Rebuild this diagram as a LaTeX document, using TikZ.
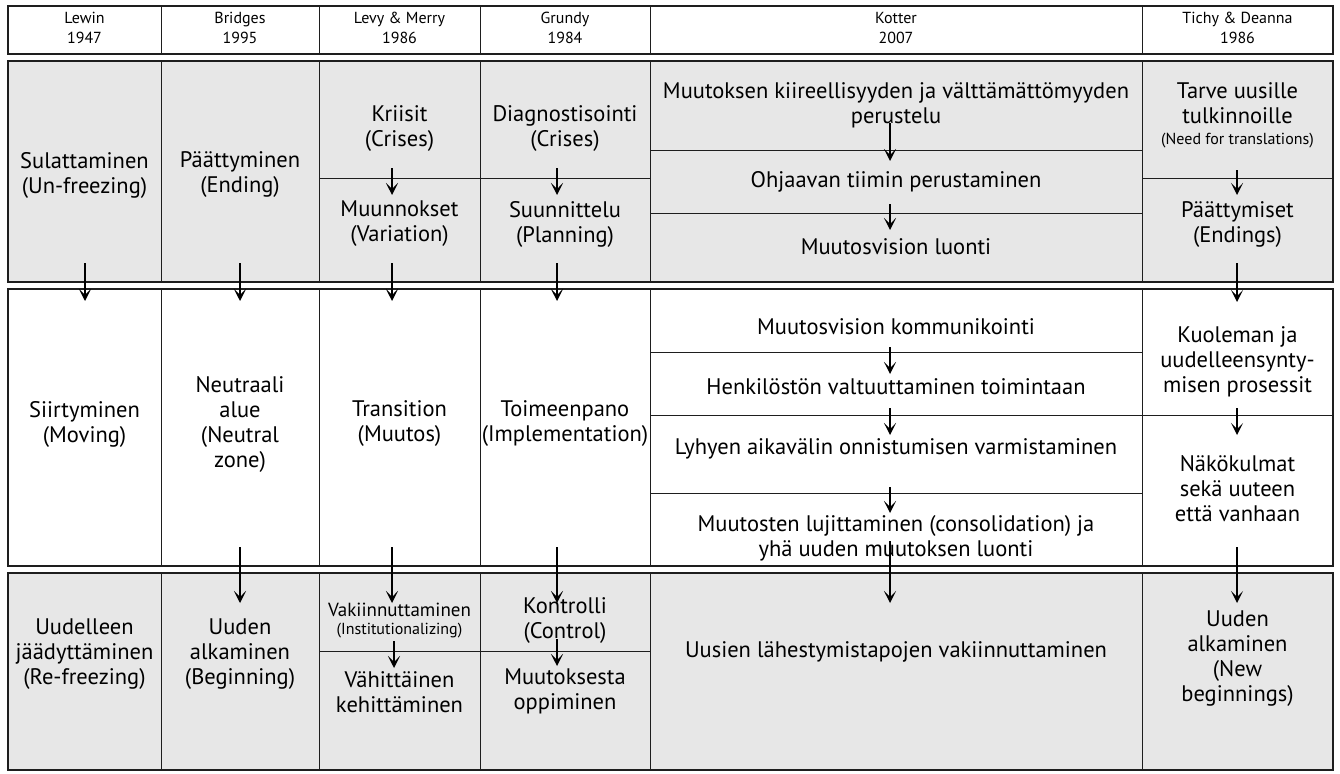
\documentclass[tikz,border=0pt]{standalone}
\usepackage{fontspec}
\setmainfont{PT Sans}
\usetikzlibrary{arrows.meta}
\definecolor{cellgray}{HTML}{E7E7E7}
\definecolor{rulecol}{HTML}{1E1E1E}
\tikzset{
  band/.style={draw=rulecol, line width=1.8pt},
  sep/.style={draw=rulecol, line width=1pt},
  txt/.style={align=center, inner sep=0pt, font=\fontsize{22.5}{25}\selectfont},
  head/.style={align=center, inner sep=0pt, font=\fontsize{16}{20}\selectfont},
  mid/.style={align=center, inner sep=0pt, font=\fontsize{19}{22}\selectfont},
  small/.style={align=center, inner sep=0pt, font=\fontsize{16}{18}\selectfont},
  arr/.style={draw=black, line width=1.4pt, -{Stealth[length=12pt,width=12pt,inset=6pt]}}
}
\begin{document}
\begin{tikzpicture}[x=1pt,y=-1pt]
\useasboundingbox (0,0) rectangle (1340,773);
\fill[white] (0,0) rectangle (1340,773);

% ---- bands ----
\draw[band, fill=white]    (8,6)   rectangle (1333,54);
\draw[band, fill=cellgray] (8,61)  rectangle (1333,282);
\draw[band, fill=white]    (8,289) rectangle (1333,566);
\draw[band, fill=cellgray] (8,573) rectangle (1333,770);

% ---- column rules ----
\foreach \x in {161,319,480,650,1142}{
  \draw[sep] (\x,6) -- (\x,54);
  \draw[sep] (\x,61) -- (\x,282);
  \draw[sep] (\x,289) -- (\x,566);
  \draw[sep] (\x,573) -- (\x,770);
}

% ---- row rules inside columns ----
\draw[sep] (319,178) -- (650,178);
\draw[sep] (650,150) -- (1142,150);
\draw[sep] (650,213) -- (1142,213);
\draw[sep] (1142,178) -- (1333,178);
\draw[sep] (650,352) -- (1142,352);
\draw[sep] (650,415) -- (1333,415);
\draw[sep] (650,493) -- (1142,493);
\draw[sep] (319,651) -- (650,651);

% ---- header ----
\node[head] (h1) at (84.5,28) {Lewin\\1947};
\node[head] (h2) at (240,28) {Bridges\\1995};
\node[head] (h3) at (399.5,28) {Levy \& Merry\\1986};
\node[head] (h4) at (565,28) {Grundy\\1984};
\node[head] (h5) at (896,28) {Kotter\\2007};
\node[head] (h6) at (1237.5,28) {Tichy \& Deanna\\1986};

% ---- first band ----
\node[txt] (lw1) at (84.5,175) {Sulattaminen\\(Un-freezing)};
\node[txt] (br1) at (240,175) {Päättyminen\\(Ending)};
\node[txt] (lm1) at (399.5,129) {Kriisit\\(Crises)};
\node[txt] (lm2) at (399.5,224) {Muunnokset\\(Variation)};
\node[txt] (gr1) at (565,129) {Diagnostisointi\\(Crises)};
\node[txt] (gr2) at (565,224) {Suunnittelu\\(Planning)};
\node[txt] (kt1) at (896,105) {Muutoksen kiireellisyyden ja välttämättömyyden\\perustelu};
\node[txt] (kt2) at (896,182) {Ohjaavan tiimin perustaminen};
\node[txt] (kt3) at (896,247) {Muutosvision luonti};
\node[txt] (td1) at (1237.5,103) {Tarve uusille\\tulkinnoille};
\node[small] (td1b) at (1237.5,141) {(Need for translations)};
\node[txt] (td2) at (1237.5,225) {Päättymiset\\(Endings)};

% ---- second band ----
\node[txt] (lw2) at (84.5,424) {Siirtyminen\\(Moving)};
\node[txt] (br2) at (240,424) {Neutraali\\alue\\(Neutral\\zone)};
\node[txt] (lm3) at (399.5,424) {Transition\\(Muutos)};
\node[txt] (gr3) at (565,424) {Toimeenpano\\(Implementation)};
\node[txt] (kt4) at (896,327) {Muutosvision kommunikointi};
\node[txt] (kt5) at (896,387) {Henkilöstön valtuuttaminen toimintaan};
\node[txt] (kt6) at (896,449) {Lyhyen aikavälin onnistumisen varmistaminen};
\node[txt] (kt7) at (896,538) {Muutosten lujittaminen (consolidation) ja\\yhä uuden muutoksen luonti};
\node[txt] (td3) at (1237.5,362) {Kuoleman ja\\uudelleensynty-\\misen prosessit};
\node[txt] (td4) at (1237.5,489) {Näkökulmat\\sekä uuteen\\että vanhaan};

% ---- third band ----
\node[txt] (lw3) at (84.5,654) {Uudelleen\\jäädyttäminen\\(Re-freezing)};
\node[txt] (br3) at (240,654) {Uuden\\alkaminen\\(Beginning)};
\node[mid] (lm4) at (399.5,610) {Vakiinnuttaminen};
\node[small] (lm4b) at (399.5,631) {(Institutionalizing)};
\node[txt] (lm5) at (399.5,692) {Vähittäinen\\kehittäminen};
\node[txt] (gr4) at (565,621) {Kontrolli\\(Control)};
\node[txt] (gr5) at (565,691) {Muutoksesta\\oppiminen};
\node[txt] (kt8) at (896,652) {Uusien lähestymistapojen vakiinnuttaminen};
\node[txt] (td5) at (1237.5,659) {Uuden\\alkaminen\\(New\\beginnings)};

% ---- arrow end points ----
\foreach \n/\x/\ya/\yb in {
  a1/392/168/195, a2/557/168/195,
  a3/890/123/161, a4/890/204/230,
  a5/1237/170/195,
  b1/85/263/301, b2/240/263/301, b3/392/263/301, b4/557/263/301, b5/1237/263/302,
  c1/890/347/374, c2/890/408/435, c3/890/487/513, c4/1237/408/435,
  d1/240/547/603, d2/392/547/603, d3/557/547/603, d4/890/541/603, d5/1237/547/603,
  e1/394/641/668, e2/557/639/666}{
  \coordinate (\n s) at (\x,\ya);
  \coordinate (\n e) at (\x,\yb);
}
\foreach \n in {a1,a2,a3,a4,a5,b1,b2,b3,b4,b5,c1,c2,c3,c4,d1,d2,d3,d4,d5,e1,e2}{
  \draw[arr] (\n s) -- (\n e);
}
\end{tikzpicture}
\end{document}
